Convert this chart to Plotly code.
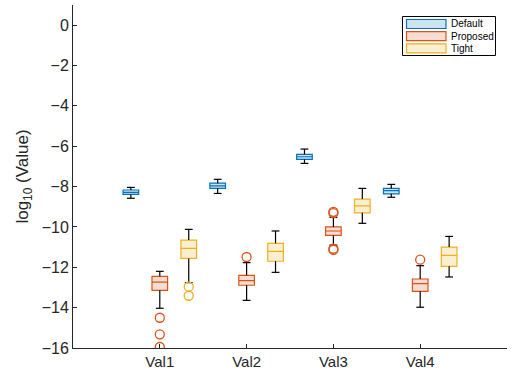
import plotly.graph_objects as go

categories = ["Val1", "Val2", "Val3", "Val4"]
series = ["Default", "Proposed", "Tight"]

# box statistics per series, one value per category
lower = {
    "Default": [-8.58, -8.34, -6.85, -8.53],
    "Proposed": [-14.03, -13.64, -10.90, -13.98],
    "Tight": [-12.76, -12.25, -9.82, -12.48],
}
q1 = {
    "Default": [-8.39, -8.09, -6.65, -8.36],
    "Proposed": [-13.14, -12.89, -10.42, -13.19],
    "Tight": [-11.56, -11.70, -9.30, -11.95],
}
median = {
    "Default": [-8.29, -7.96, -6.52, -8.20],
    "Proposed": [-12.74, -12.66, -10.20, -12.81],
    "Tight": [-11.06, -11.21, -8.96, -11.41],
}
q3 = {
    "Default": [-8.17, -7.83, -6.40, -8.09],
    "Proposed": [-12.45, -12.40, -10.00, -12.58],
    "Tight": [-10.65, -10.81, -8.62, -11.00],
}
upper = {
    "Default": [-8.04, -7.64, -6.14, -7.89],
    "Proposed": [-12.20, -11.77, -9.53, -11.92],
    "Tight": [-10.12, -10.20, -8.09, -10.47],
}
# outliers: (category index, value)
outliers = {
    "Default": [],
    "Proposed": [(0, -14.50), (0, -15.32), (0, -15.95), (1, -11.49),
                 (2, -9.25), (2, -9.32), (2, -11.08), (2, -11.14), (3, -11.62)],
    "Tight": [(0, -12.96), (0, -13.41)],
}

colors = {"Default": "#0072BD", "Proposed": "#D95319", "Tight": "#EDB120"}
fills = {
    "Default": "rgba(0,114,189,0.2)",
    "Proposed": "rgba(217,83,25,0.2)",
    "Tight": "rgba(237,177,32,0.2)",
}
offsets = {"Default": -1 / 3, "Proposed": 0.0, "Tight": 1 / 3}
box_width = 0.18
cap_half = 0.045

W, H = 516, 383
L, R, T, B = 73, 9, 5, 35


def px(x, y):
    # pixel position -> paper coords
    return (x - L) / (W - L - R), (H - B - y) / (H - T - B)


fig = go.Figure()

for s in series:
    xs = [i + 1 + offsets[s] for i in range(len(categories))]

    # black whiskers + caps
    wx, wy = [], []
    for x, a, b, lo, hi in zip(xs, q1[s], q3[s], lower[s], upper[s]):
        wx += [x, x, None, x, x, None,
               x - cap_half, x + cap_half, None, x - cap_half, x + cap_half, None]
        wy += [b, hi, None, a, lo, None, hi, hi, None, lo, lo, None]
    fig.add_trace(go.Scatter(x=wx, y=wy, mode="lines", showlegend=False,
                             hoverinfo="skip", line=dict(color="black", width=1.2)))

    fig.add_trace(go.Box(
        x=xs, q1=q1[s], median=median[s], q3=q3[s],
        lowerfence=q1[s], upperfence=q3[s],
        width=box_width, whiskerwidth=0, boxpoints=False, hoverinfo="skip",
        name=s, showlegend=False,
        line=dict(color=colors[s], width=1.2), fillcolor=fills[s],
    ))
    if outliers[s]:
        fig.add_trace(go.Scatter(
            x=[i + 1 + offsets[s] for i, _ in outliers[s]],
            y=[v for _, v in outliers[s]],
            mode="markers", showlegend=False, hoverinfo="skip",
            marker=dict(symbol="circle-open", size=9, color=colors[s],
                        line=dict(width=1.3)),
        ))

# hand-built legend, MATLAB style
x0, y0 = px(402.5, 16.5)
x1, y1 = px(495.5, 55.5)
fig.add_shape(type="rect", xref="paper", yref="paper", x0=x0, y0=y0, x1=x1, y1=y1,
              line=dict(color="black", width=1), fillcolor="white")
for k, s in enumerate(series):
    cy = 24 + k * 12.2
    sx0, sy0 = px(406.5, cy - 4.5)
    sx1, sy1 = px(446, cy + 4.5)
    fig.add_shape(type="rect", xref="paper", yref="paper", x0=sx0, y0=sy0, x1=sx1, y1=sy1,
                  line=dict(color=colors[s], width=1.2), fillcolor=fills[s])
    tx, ty = px(448.5, cy)
    fig.add_annotation(x=tx, y=ty, xref="paper", yref="paper", text=s,
                       showarrow=False, xanchor="left", yanchor="middle",
                       font=dict(size=10, color="black"))

fig.update_layout(
    width=W, height=H,
    margin=dict(l=L, r=R, t=T, b=B),
    paper_bgcolor="white", plot_bgcolor="white",
    font=dict(family="Liberation Sans, Arial, sans-serif", color="#262626"),
    showlegend=False,
)
fig.update_xaxes(
    range=[0, 5], tickvals=[1, 2, 3, 4], ticktext=categories,
    showline=True, linecolor="#262626", linewidth=1, mirror=False,
    ticks="inside", ticklen=4, tickcolor="#262626",
    showgrid=False, zeroline=False, tickfont=dict(size=15),
)
fig.update_yaxes(
    range=[-16, 1], tickvals=list(range(-16, 1, 2)),
    showline=True, linecolor="#262626", linewidth=1, mirror=False,
    ticks="inside", ticklen=4, tickcolor="#262626",
    showgrid=False, zeroline=False, tickfont=dict(size=16),
    title=dict(text="log<sub>10</sub> (Value)", font=dict(size=17), standoff=8),
)

fig.write_html("out.html", config={"displayModeBar": False},
               post_script="document.body.style.margin='0';")
